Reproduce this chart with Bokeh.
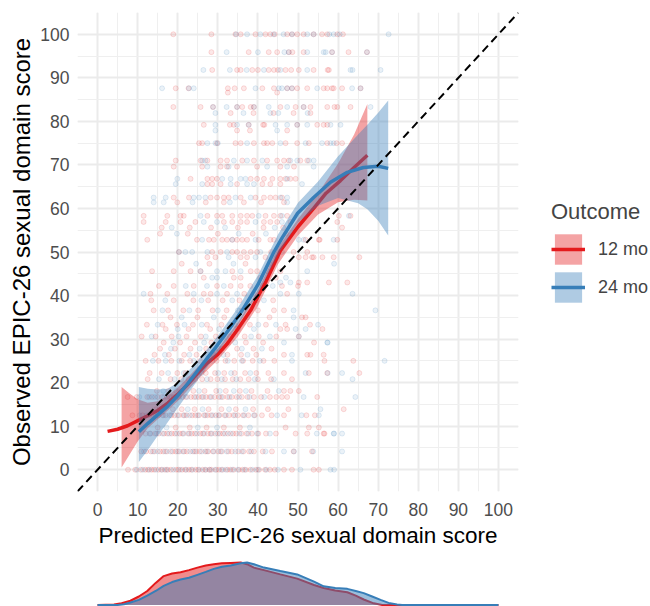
from bokeh.plotting import figure
from bokeh.models import Range1d, SingleIntervalTicker, Legend, LegendItem, Slope
from bokeh.layouts import column
from bokeh.embed import file_html
from bokeh.resources import INLINE

RED = "#E41A1C"
BLUE = "#377EB8"
FONT = "Liberation Sans"

# ---------------- scatter data: (observed score, [predicted scores]) ----------------
red_rows = [
    (0, [7.6, 9.4, 10.8, 11.9, 12.6, 13.5, 14.1, 15.2, 15.9, 16.8, 17.5, 18.3, 19.6, 20.2, 21.1, 21.9, 22.8, 23.4, 24.5, 25.1, 26.2, 27.0, 27.9, 28.4, 29.6, 30.3, 31.2, 32.4, 33.1, 34.0, 35.3, 36.2, 37.0, 38.1, 39.5, 40.3, 41.8, 43.0, 44.2, 46.5, 48.5, 53.9, 55.2]),
    (4.2, [10.9, 12.1, 13.3, 14.2, 15.6, 16.4, 17.3, 18.7, 19.5, 20.4, 21.6, 22.3, 23.8, 24.6, 25.5, 26.9, 27.6, 28.8, 30.1, 31.0, 32.6, 33.5, 35.1, 36.4, 37.8, 39.0, 41.2, 43.5, 48.9, 53.5]),
    (8.3, [12.0, 13.2, 14.4, 15.3, 16.6, 17.4, 18.5, 19.3, 20.5, 21.2, 22.6, 23.5, 24.3, 25.6, 26.3, 27.5, 28.2, 29.4, 30.5, 31.3, 32.5, 33.8, 34.6, 35.9, 37.2, 38.5, 40.1, 42.0, 44.5, 49.4, 52.3, 56.4, 56.6]),
    (9.7, [15.0, 19.5, 23.0, 27.2, 31.5, 35.5, 46.9, 52.7, 55.2]),
    (12.5, [8.7, 11.2, 12.8, 13.9, 15.1, 16.2, 17.0, 18.4, 19.2, 20.3, 21.4, 22.2, 23.6, 24.4, 25.3, 26.6, 27.4, 28.3, 29.5, 30.4, 31.7, 32.8, 33.9, 35.0, 36.3, 37.6, 39.2, 41.0, 43.4, 46.5, 52.1, 54.2]),
    (13.9, [14.6, 18.8, 21.0, 24.2, 27.7, 30.9, 34.5, 38.8, 42.5, 47.6, 61.4]),
    (16.7, [7.5, 9.8, 12.4, 13.6, 15.0, 16.1, 17.3, 18.0, 19.1, 20.0, 21.2, 22.0, 23.3, 24.1, 25.2, 26.0, 27.1, 28.0, 29.2, 30.3, 31.2, 32.4, 33.5, 34.7, 36.0, 37.4, 39.0, 40.8, 43.0, 44.6, 46.0, 47.3, 54.8]),
    (18.1, [14.8, 17.7, 20.9, 23.9, 26.7, 29.6, 32.0, 35.5, 38.4, 42.4, 46.5, 48.1, 50.2]),
    (20.8, [12.5, 18.2, 20.9, 22.7, 24.4, 26.1, 28.2, 29.9, 31.8, 33.7, 35.6, 37.7, 40.0, 43.3, 48.5]),
    (22.2, [13.0, 16.0, 19.9, 22.0, 24.9, 27.0, 29.3, 31.6, 34.2, 36.8, 39.6, 42.6, 46.5, 52.7, 57.3, 65.3]),
    (25, [12.0, 15.2, 18.4, 21.0, 23.1, 25.6, 27.6, 29.7, 31.9, 34.1, 36.3, 38.7, 41.4, 44.1, 56.6, 63.8]),
    (26.4, [14.2, 17.8, 21.6, 24.7, 28.9, 32.4, 35.8, 39.6, 46.5, 52.3, 53.1, 56.4]),
    (27.8, [15.6, 19.3, 23.2, 27.1, 31.0, 34.8, 38.9, 43.4]),
    (29.2, [16.5, 20.6, 24.3, 28.4, 32.7, 37.0, 41.3, 54.0]),
    (30.6, [11.0, 14.5, 18.5, 22.2, 25.8, 29.5, 33.0, 36.7, 40.2, 44.6, 50.2]),
    (32.3, [17.0, 22.7, 28.1, 35.0, 45.6, 47.3, 56.1]),
    (33.3, [12.3, 16.2, 19.8, 23.8, 27.3, 30.9, 34.2, 38.0, 42.0, 46.9, 53.0]),
    (35, [18.2, 24.9, 31.6, 42.9, 51.0, 51.9]),
    (36.6, [14.0, 17.6, 21.4, 25.1, 28.7, 32.2, 36.1, 40.0, 44.0, 46.5]),
    (38.9, [13.4, 19.0, 23.9, 27.6, 31.2, 35.4, 39.7, 43.8]),
    (40.4, [13.2, 17.4, 22.4, 26.5, 28.2, 32.3, 36.6, 38.9, 47.3]),
    (42.2, [15.3, 19.0, 24.0, 29.8, 33.2, 35.7, 38.1, 41.2, 46.0, 50.0]),
    (43.0, [50.2, 52.3, 57.7, 62.3]),
    (44.1, [26.5, 34.0, 35.7, 40.6, 44.5]),
    (45.6, [13.6, 19.0, 23.2, 25.7, 33.6, 38.2, 39.8, 42.5, 45.6]),
    (47.3, [21.0, 27.9, 36.9, 43.0]),
    (48.8, [27.4, 29.4, 35.7, 37.3, 41.9, 50.2, 51.9, 53.5, 53.9, 56.1, 58.9, 65.3]),
    (50, [20.3, 28.6, 30.7, 33.6, 34.8, 36.5, 38.2, 39.8, 43.3, 48.9, 52.3]),
    (52.8, [12.4, 24.8, 27.8, 29.0, 31.1, 32.3, 33.6, 34.8, 36.1, 37.3, 40.2, 43.1, 44.0, 51.9, 55.4, 55.2, 59.8]),
    (54.2, [15.6, 22.5, 30.0, 38.7, 47.0]),
    (55.6, [16.0, 23.0, 28.3, 35.0, 41.4, 46.3, 61.0]),
    (56.9, [11.5, 17.0, 20.7, 24.4, 31.5, 33.6, 35.7, 37.3, 41.5, 43.1, 44.8, 48.1, 59.8]),
    (58.3, [11.5, 17.4, 20.7, 21.5, 27.4, 29.8, 31.1, 33.6, 35.7, 37.3, 38.6, 41.9, 44.0, 45.6, 47.3, 60.2, 63.1]),
    (61.4, [19.9, 27.0, 31.5, 36.5, 40.8, 46.5]),
    (62.5, [19.0, 22.8, 28.2, 29.8, 31.5, 32.7, 35.7, 39.4, 41.5, 43.1, 44.4, 46.0]),
    (65.6, [27.4, 28.6, 30.7, 34.8, 41.1, 43.1, 45.6]),
    (66.8, [23.2, 27.4, 28.6, 29.8, 38.2, 39.8, 41.5, 43.6, 45.6, 46.9, 48.1, 49.4]),
    (69.6, [19.0, 26.1, 30.7, 32.3, 34.8, 39.8, 45.6, 49.0]),
    (71, [19.5, 25.7, 27.4, 30.7, 32.3, 36.1, 39.0, 42.3, 44.8, 46.5, 47.7, 50.6, 52.3]),
    (75, [25.3, 26.1, 29.8, 34.4, 35.7, 39.0, 41.5, 42.3, 43.6, 46.9, 49.8, 52.7, 57.3, 59.6, 61.0]),
    (77.9, [34.8, 38.0, 47.3]),
    (79.2, [26.5, 33.0, 34.0, 37.7, 41.3, 41.6, 49.8, 54.8, 56.4, 57.3]),
    (81.9, [33.2, 38.9, 43.9, 48.9, 53.1]),
    (83.3, [18.9, 25.7, 28.8, 34.8, 36.1, 38.2, 39.0, 45.6, 49.4, 51.4, 53.1, 57.3, 59.1, 59.8, 63.1]),
    (86.6, [32.5, 44.8]),
    (87.6, [19.5, 22.7, 32.5, 34.2, 36.5, 41.1, 44.0, 47.3, 48.5, 49.8, 52.3, 56.4, 57.3, 58.5, 58.9, 61.0, 65.6]),
    (91.8, [28.6, 34.8, 35.7, 38.6, 40.0, 42.7, 44.0, 45.0, 46.9, 48.3, 50.2, 53.9, 57.4, 57.7]),
    (95.9, [28.4, 37.7, 42.7, 44.8, 47.7, 48.6, 51.4, 58.5, 62.6, 67.2]),
    (100, [18.9, 28.4, 34.4, 35.7, 39.4, 41.9, 43.1, 44.2, 47.3, 48.5, 49.8, 51.4, 53.9, 56.0, 57.3, 59.8, 61.2]),
]

blue_rows = [
    (0, [9.8, 11.3, 12.9, 14.6, 16.1, 17.2, 18.9, 20.6, 22.1, 23.7, 25.4, 26.8, 28.0, 29.3, 30.9, 32.0, 33.6, 35.0, 36.7, 38.6, 40.0, 42.1, 45.0, 50.6, 58.1, 59.0]),
    (4.2, [11.6, 13.8, 15.0, 16.9, 18.2, 20.0, 21.3, 23.1, 24.2, 26.0, 27.3, 29.0, 30.7, 32.2, 34.4, 36.0, 38.3, 41.9, 46.5, 49.0, 53.8, 61.0]),
    (8.3, [13.0, 14.8, 16.2, 17.9, 19.8, 21.5, 22.9, 24.8, 26.6, 28.5, 30.0, 31.8, 33.2, 35.4, 37.6, 39.8, 43.0, 54.7, 58.9, 61.0, 59.0]),
    (9.7, [17.2, 25.0, 29.8, 38.0]),
    (12.5, [10.5, 12.2, 14.5, 16.5, 18.0, 19.9, 21.7, 23.0, 25.0, 26.9, 28.7, 30.2, 32.0, 34.3, 36.6, 39.0, 44.8, 50.9, 55.2]),
    (13.9, [16.0, 22.5, 26.2, 32.8, 36.9, 55.6]),
    (16.7, [10.4, 12.9, 14.3, 16.6, 18.5, 20.4, 22.4, 24.6, 26.4, 28.4, 30.8, 32.9, 35.3, 37.9, 41.6, 51.4, 64.3]),
    (18.1, [16.4, 19.6, 25.3, 30.5, 34.0, 37.0, 45.2]),
    (20.8, [15.3, 19.2, 23.5, 27.3, 31.0, 34.6, 39.2, 44.0, 63.6]),
    (22.2, [17.6, 21.5, 26.0, 30.1, 33.3, 38.1, 51.9, 57.4, 61.0]),
    (25, [13.8, 17.0, 20.4, 24.0, 28.6, 32.5, 36.0, 40.5, 48.5, 71.6]),
    (26.4, [16.8, 22.9, 27.5, 31.4, 37.4, 48.5]),
    (27.8, [18.3, 25.5, 30.2, 36.0, 41.0]),
    (29.2, [18.9, 26.6, 34.3, 46.5, 57.3, 57.4]),
    (30.6, [13.5, 20.2, 27.0, 31.5, 38.3, 43.0, 50.2]),
    (32.3, [20.0, 30.3, 39.0, 49.4, 51.9]),
    (33.3, [15.0, 21.7, 26.0, 33.0, 40.1, 44.5, 55.0]),
    (35, [21.0, 29.0, 37.4, 48.9]),
    (36.6, [16.2, 22.9, 30.0, 35.0, 48.9, 69.3]),
    (38.9, [16.9, 25.9, 33.6, 41.5]),
    (40.4, [11.5, 24.0, 29.8, 34.8, 45.6, 50.2, 63.6]),
    (42.2, [22.0, 27.3, 31.5, 43.7]),
    (43.0, [45.6, 48.1]),
    (44.1, [28.6, 29.8, 47.0]),
    (45.6, [25.7, 29.8, 31.9, 35.7, 52.3]),
    (47.3, [24.6, 33.9, 59.0]),
    (48.8, [32.7, 39.4, 44.8]),
    (50, [20.3, 21.9, 23.6, 27.4, 32.3, 40.6, 46.0]),
    (52.8, [26.1, 33.6, 39.4, 50.2, 51.4, 58.9]),
    (54.2, [19.8, 35.2, 42.0]),
    (55.6, [18.5, 31.8, 44.2]),
    (56.9, [26.5, 29.8, 39.4, 46.0]),
    (58.3, [25.7, 40.2, 46.0, 62.7]),
    (61.4, [14.0, 16.5, 23.7, 33.0, 47.3]),
    (62.5, [14.0, 17.0, 24.0, 25.3, 26.9, 34.4, 38.2, 45.6, 47.3]),
    (65.6, [19.5, 26.1, 33.2, 37.3, 39.0, 51.0]),
    (66.8, [19.9, 31.1, 33.2, 35.7, 36.9, 47.3]),
    (69.6, [27.4, 32.7, 42.3, 47.3, 53.9]),
    (71, [26.1, 26.9, 34.0, 37.3, 41.1, 48.1, 49.8, 52.7, 53.9]),
    (75, [27.4, 29.4, 30.0, 37.3, 45.6, 51.9, 56.0, 58.1, 58.9]),
    (77.9, [29.4, 44.8]),
    (79.2, [29.4, 34.8, 37.7, 44.4, 47.3, 49.8, 52.3, 58.1, 60.6]),
    (81.9, [29.4, 36.4, 43.1, 45.1, 52.4]),
    (83.3, [28.8, 32.2, 34.8, 39.0, 42.7, 47.3, 51.4, 68.1]),
    (87.6, [16.1, 22.8, 24.0, 39.4, 45.2, 46.0, 47.3, 48.5, 54.8, 63.5, 65.6]),
    (91.8, [26.4, 33.0, 37.2, 41.5, 45.6, 52.3, 63.1, 63.6, 70.6]),
    (95.9, [32.2, 40.0, 46.6, 47.7, 52.3, 56.4, 56.9, 58.5, 67.2]),
    (100, [34.6, 37.3, 40.6, 43.9, 46.4, 48.5, 52.3, 53.9, 57.8, 58.9, 60.4, 72.6]),
]

# ---------------- smoothed curves and confidence bands ----------------
red_line_x = [2.5, 5, 7.5, 10.3, 12.5, 15, 17.5, 20, 22.5, 25, 27.5, 30, 32.5, 35, 38.2, 42, 45.6, 50, 53.9, 57, 60.6, 64, 67.3]
red_line_y = [8.8, 9.3, 10.1, 11.4, 12.4, 13.6, 15.3, 17.3, 19.6, 22.2, 24.6, 26.5, 29.1, 32.3, 36.6, 43.2, 50.3, 55.8, 60.0, 63.5, 66.4, 69.4, 72.2]
red_band_x = [6, 8, 10, 12.5, 15, 17.5, 20, 25, 30, 35, 40, 45, 50, 55, 60, 64, 67.3]
red_band_lo = [0.5, 3.5, 6.5, 9.5, 11.6, 13.6, 15.8, 20.8, 25.2, 30.6, 37.6, 47.2, 53.8, 58.6, 61.4, 62.0, 61.8]
red_band_hi = [19.0, 17.5, 16.2, 15.4, 15.7, 17.0, 18.8, 23.6, 27.8, 33.8, 41.2, 51.0, 57.6, 63.5, 70.3, 77.0, 84.0]

blue_line_x = [10.3, 12.5, 15, 17.4, 20, 22.5, 25, 27.5, 29.4, 33, 36.1, 40, 44, 46, 49.9, 53.9, 58.1, 62.3, 66.3, 70, 72.5]
blue_line_y = [8.7, 10.6, 12.6, 14.5, 17.0, 19.8, 22.8, 25.8, 28.0, 32.5, 36.6, 42.5, 50.0, 53.2, 58.9, 62.5, 66.0, 68.3, 69.4, 69.7, 69.2]
blue_band_x = [10.3, 12.5, 15, 17.5, 20, 25, 30, 35, 40, 45, 50, 55, 60, 65, 67.3, 70, 72.5]
blue_band_lo = [1.8, 4.5, 7.8, 10.9, 14.2, 20.6, 26.9, 33.2, 40.4, 49.4, 56.7, 60.6, 62.4, 61.2, 59.8, 57.2, 53.8]
blue_band_hi = [19.0, 18.6, 18.4, 18.6, 20.0, 25.0, 30.7, 37.2, 44.6, 54.0, 61.3, 66.2, 72.0, 77.0, 79.2, 82.0, 84.8]

# ---------------- marginal densities of predicted score ----------------
red_dens_x = [0, 4.1, 6, 8.2, 10.3, 12.4, 14.5, 16.5, 18.6, 20.7, 22.8, 24.9, 27, 29, 31, 33.2, 35.7, 37.3, 39, 41.5, 45.6, 49.8, 54, 56.4, 59.3, 62.3, 64.4, 66.4, 68.9, 71, 100]
red_dens_y = [0, 0.01, 0.04, 0.1, 0.2, 0.33, 0.52, 0.68, 0.74, 0.77, 0.82, 0.88, 0.93, 0.96, 0.98, 0.99, 1.0, 0.96, 0.88, 0.82, 0.72, 0.62, 0.47, 0.4, 0.34, 0.3, 0.22, 0.13, 0.04, 0.0, 0]
blue_dens_x = [0, 5, 6.6, 8.2, 10.3, 12.4, 14.5, 16.5, 18.6, 20.7, 22.8, 24.9, 27, 29, 31, 33.2, 35.7, 37.3, 39, 41.5, 45.6, 49.8, 54, 56.4, 59.3, 62.3, 64.4, 66.4, 68.5, 70.6, 72.6, 74.7, 76, 100]
blue_dens_y = [0, 0.0, 0.02, 0.06, 0.12, 0.22, 0.33, 0.45, 0.54, 0.6, 0.64, 0.71, 0.78, 0.85, 0.9, 0.93, 0.98, 1.0, 0.96, 0.88, 0.8, 0.72, 0.55, 0.44, 0.4, 0.38, 0.33, 0.28, 0.2, 0.12, 0.05, 0.01, 0, 0]

series_labels = ["12 mo", "24 mo"]


def flatten(rows):
    xs, ys = [], []
    for level, preds in rows:
        xs.extend(preds)
        ys.extend([level] * len(preds))
    return xs, ys


p = figure(frame_width=441, frame_height=479, x_range=Range1d(-5, 105), y_range=Range1d(-5, 105),
           output_backend="svg", toolbar_location=None,
           min_border_left=77, min_border_right=132, min_border_top=12, min_border_bottom=65)
p.outline_line_color = None
p.background_fill_color = "white"
p.border_fill_color = "white"

for ax in (p.xaxis[0], p.yaxis[0]):
    ax.ticker = SingleIntervalTicker(interval=10, num_minor_ticks=2)
    ax.axis_line_color = None
    ax.major_tick_line_color = None
    ax.minor_tick_line_color = None
    ax.major_tick_out = 0
    ax.major_tick_in = 0
    ax.minor_tick_out = 0
    ax.minor_tick_in = 0
    ax.major_label_text_font = FONT
    ax.major_label_text_font_size = "17.5px"
    ax.major_label_text_color = "#4D4D4D"
    ax.axis_label_text_font = FONT
    ax.axis_label_text_font_style = "normal"
    ax.axis_label_text_color = "black"

p.xaxis.axis_label = "Predicted EPIC-26 sexual domain score"
p.yaxis.axis_label = "Observed EPIC-26 sexual domain score"
p.xaxis.axis_label_text_font_size = "22.5px"
p.yaxis.axis_label_text_font_size = "24px"
p.xaxis.major_label_standoff = 11
p.xaxis.axis_label_standoff = 4
p.yaxis.major_label_standoff = 8
p.yaxis.axis_label_standoff = 2

for g in (p.xgrid[0], p.ygrid[0]):
    g.grid_line_color = "#EBEBEB"
    g.grid_line_width = 2
    g.minor_grid_line_color = "#EFEFEF"
    g.minor_grid_line_width = 1

rx, ry = flatten(red_rows)
bx, by = flatten(blue_rows)
p.scatter(rx, ry, size=5, fill_color=RED, fill_alpha=0.1, line_color=RED, line_alpha=0.18, line_width=0.8)
p.scatter(bx, by, size=5, fill_color=BLUE, fill_alpha=0.1, line_color=BLUE, line_alpha=0.18, line_width=0.8)

r_band = p.varea(x=red_band_x, y1=red_band_lo, y2=red_band_hi, fill_color=RED, fill_alpha=0.4)
r_line = p.line(red_line_x, red_line_y, line_color=RED, line_width=3.5)
b_band = p.varea(x=blue_band_x, y1=blue_band_lo, y2=blue_band_hi, fill_color=BLUE, fill_alpha=0.4)
b_line = p.line(blue_line_x, blue_line_y, line_color=BLUE, line_width=3.5)

p.add_layout(Slope(gradient=1, y_intercept=0, line_color="black", line_width=2, line_dash="8 5"))

legend = Legend(items=[LegendItem(label=series_labels[0], renderers=[r_band, r_line]),
                       LegendItem(label=series_labels[1], renderers=[b_band, b_line])],
                location=(33, 185), title="Outcome",
                title_text_font=FONT, title_text_font_size="22px", title_text_font_style="normal",
                title_standoff=5, label_text_font=FONT, label_text_font_size="18px",
                label_standoff=13, glyph_width=34, glyph_height=38, label_height=38,
                spacing=0, padding=0, margin=0, border_line_color=None,
                background_fill_alpha=0)
p.add_layout(legend, "right")

d = figure(frame_width=441, height=50, x_range=p.x_range, y_range=Range1d(-0.035, 1.141),
           output_backend="svg", toolbar_location=None,
           x_axis_location=None, y_axis_location=None,
           min_border_left=77, min_border_right=132, min_border_top=0, min_border_bottom=0)
d.grid.visible = False
d.outline_line_color = None
d.varea(x=red_dens_x, y1=0, y2=red_dens_y, fill_color=RED, fill_alpha=0.5)
d.line(red_dens_x, red_dens_y, line_color=RED, line_width=2)
d.varea(x=blue_dens_x, y1=0, y2=blue_dens_y, fill_color=BLUE, fill_alpha=0.5)
d.line(blue_dens_x, blue_dens_y, line_color=BLUE, line_width=2)

layout = column(p, d)
open("out.html", "w").write(file_html(layout, INLINE))
